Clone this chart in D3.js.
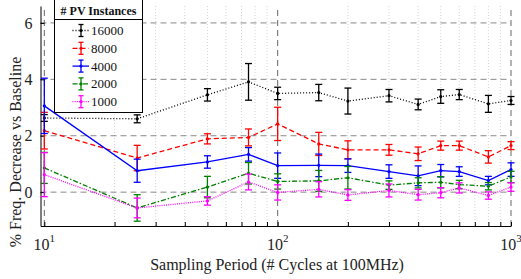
<!DOCTYPE html>
<html>
<head>
<meta charset="utf-8">
<script src="https://cdn.jsdelivr.net/npm/d3@7"></script>
<style>
  html, body { margin: 0; padding: 0; background: #fff; }
  svg text { font-family: "Liberation Serif" !important; }
</style>
</head>
<body>
<svg id="chart" width="521" height="279"></svg>
<script>
// ---- data ----
const periods = [10, 25, 50, 75, 100, 150, 200, 300, 400, 500, 600, 800, 1000];
const seriesNames = ["16000", "8000", "4000", "2000", "1000"];
const mean16000 = [2.63, 2.60, 3.45, 3.91, 3.50, 3.53, 3.23, 3.42, 3.11, 3.39, 3.46, 3.13, 3.25];
const err16000  = [0.12, 0.14, 0.22, 0.65, 0.22, 0.29, 0.46, 0.22, 0.19, 0.24, 0.18, 0.30, 0.14];
const mean8000  = [2.18, 1.21, 1.89, 1.94, 2.42, 1.71, 1.50, 1.50, 1.36, 1.65, 1.65, 1.25, 1.65];
const err8000   = [0.65, 0.45, 0.18, 0.30, 0.59, 0.41, 0.32, 0.19, 0.24, 0.16, 0.16, 0.22, 0.14];
const mean4000  = [3.06, 0.76, 1.07, 1.34, 0.94, 0.95, 0.94, 0.73, 0.58, 0.76, 0.73, 0.41, 0.80];
const err4000   = [0.98, 0.41, 0.22, 0.24, 0.45, 0.40, 0.24, 0.24, 0.35, 0.22, 0.17, 0.15, 0.24];
const mean2000  = [0.86, -0.56, 0.18, 0.67, 0.38, 0.40, 0.51, 0.25, 0.33, 0.35, 0.27, 0.21, 0.54];
const err2000   = [0.55, 0.47, 0.38, 0.38, 0.27, 0.37, 0.40, 0.15, 0.18, 0.20, 0.15, 0.13, 0.20];
const mean1000  = [0.62, -0.56, -0.31, 0.36, -0.01, 0.10, -0.10, 0.06, -0.09, -0.02, 0.15, -0.12, 0.18];
const err1000   = [0.78, 0.35, 0.15, 0.28, 0.27, 0.27, 0.19, 0.23, 0.19, 0.18, 0.18, 0.13, 0.15];
const yTicks = [0, 2, 4, 6];
const xMajorTicks = [10, 100, 1000];
const xMajorExponents = ["1", "2", "3"];
const xLabel = "Sampling Period (# Cycles at 100MHz)";
const yLabel = "% Freq. Decrease vs Baseline";
const legendTitle = "# PV Instances";

const means = [mean16000, mean8000, mean4000, mean2000, mean1000];
const errs = [err16000, err8000, err4000, err2000, err1000];
const colors = ["#000000", "#ff0000", "#0000ff", "#008000", "#ff00ff"];
const dashes = ["1,2", "5,3", null, "5,2,1.5,2", "1,1.2"];
const FONT = "Liberation Serif";

const svg = d3.select("#chart");
const x = d3.scaleLog().domain([9.63, 1000]).range([40.5, 511]);
const y = d3.scaleLinear().domain([-1.2, 6.6]).range([226, 6]);

function addText(parent) {
  return parent.append("text").style("font-family", FONT).attr("font-family", FONT);
}

// minor ticks
const minor = [];
[10, 100].forEach(d => { for (let k = 2; k <= 9; k++) minor.push(d * k); });

// grid
const grid = svg.append("g");
grid.selectAll("line.minor").data(minor).enter().append("line")
  .attr("x1", d => x(d)).attr("x2", d => x(d))
  .attr("y1", y(-1.2)).attr("y2", y(6.6))
  .attr("stroke", "#c8c8c8").attr("stroke-width", 0.8).attr("stroke-dasharray", "1,2");
grid.selectAll("line.vmaj").data(xMajorTicks).enter().append("line")
  .attr("x1", d => x(d)).attr("x2", d => x(d))
  .attr("y1", y(-1.2)).attr("y2", y(6.6))
  .attr("stroke", "#666").attr("stroke-width", 1).attr("stroke-dasharray", "6,4");
grid.selectAll("line.hmaj").data(yTicks).enter().append("line")
  .attr("x1", x(9.63)).attr("x2", x(1000))
  .attr("y1", d => y(d)).attr("y2", d => y(d))
  .attr("stroke", "#888").attr("stroke-width", 1).attr("stroke-dasharray", "6,4");

// axes
const xAxis = d3.axisBottom(x).tickValues(minor.concat(xMajorTicks)).tickSizeInner(-4).tickSizeOuter(0).tickFormat("");
const gx = svg.append("g").attr("transform", `translate(0,${y(-1.2)})`).call(xAxis);
gx.attr("font-family", null);
gx.selectAll("text").remove();
gx.select(".domain").attr("stroke", "#000");
const yAxis = d3.axisLeft(y).tickValues(yTicks).tickSizeInner(-4).tickSizeOuter(0).tickFormat(d3.format("d")).tickPadding(8);
const gy = svg.append("g").attr("transform", `translate(${x(9.63)},0)`).call(yAxis);
gy.attr("font-family", FONT);
gy.selectAll("text").attr("font-size", 16).attr("fill", "#222")
  .attr("font-family", FONT).style("font-family", FONT);

// x tick labels with superscripts
xMajorTicks.forEach((d, i) => {
  const t = addText(svg).attr("x", x(d)).attr("y", 250).attr("text-anchor", "middle")
    .attr("font-size", 16).attr("fill", "#222");
  t.append("tspan").text("10");
  t.append("tspan").attr("dy", -8).attr("font-size", 11).text(xMajorExponents[i]);
});

// axis labels
addText(svg).attr("x", 277).attr("y", 270).attr("text-anchor", "middle")
  .attr("font-size", 16).attr("fill", "#222").text(xLabel);
addText(svg).attr("transform", "translate(21,152) rotate(-90)").attr("text-anchor", "middle")
  .attr("font-size", 16).attr("fill", "#222").text(yLabel);

// series
const capW = 3.5;
seriesNames.forEach((name, si) => {
  const g = svg.append("g");
  const pts = periods.map((p, i) => ({ p, m: means[si][i], e: errs[si][i] }));
  const line = d3.line().x(d => x(d.p)).y(d => y(d.m));
  g.append("path").datum(pts).attr("d", line).attr("fill", "none")
    .attr("stroke", colors[si]).attr("stroke-width", 1.3)
    .attr("stroke-dasharray", dashes[si]);
  const eb = g.selectAll("g.eb").data(pts).enter().append("g");
  eb.append("line").attr("x1", d => x(d.p)).attr("x2", d => x(d.p))
    .attr("y1", d => y(d.m - d.e)).attr("y2", d => y(d.m + d.e))
    .attr("stroke", colors[si]).attr("stroke-width", 1.3);
  eb.append("line").attr("x1", d => x(d.p) - capW).attr("x2", d => x(d.p) + capW)
    .attr("y1", d => y(d.m - d.e)).attr("y2", d => y(d.m - d.e))
    .attr("stroke", colors[si]).attr("stroke-width", 1.3);
  eb.append("line").attr("x1", d => x(d.p) - capW).attr("x2", d => x(d.p) + capW)
    .attr("y1", d => y(d.m + d.e)).attr("y2", d => y(d.m + d.e))
    .attr("stroke", colors[si]).attr("stroke-width", 1.3);
  eb.append("circle").attr("cx", d => x(d.p)).attr("cy", d => y(d.m)).attr("r", 1.6)
    .attr("fill", colors[si]);
});

// legend
const lg = svg.append("g");
lg.append("rect").attr("x", 54.5).attr("y", -0.5).attr("width", 88).attr("height", 113)
  .attr("fill", "#fff").attr("stroke", "#000").attr("stroke-width", 1);
lg.append("line").attr("x1", 54.5).attr("x2", 142.5).attr("y1", 19.5).attr("y2", 19.5)
  .attr("stroke", "#000").attr("stroke-width", 1);
addText(lg).attr("x", 98.5).attr("y", 15).attr("text-anchor", "middle")
  .attr("font-size", 12).attr("font-weight", "bold").attr("fill", "#111").text(legendTitle);
seriesNames.forEach((name, si) => {
  const cy = 30.5 + si * 17.8;
  lg.append("line").attr("x1", 72.5).attr("x2", 89).attr("y1", cy).attr("y2", cy)
    .attr("stroke", colors[si]).attr("stroke-width", 1.3).attr("stroke-dasharray", dashes[si]);
  lg.append("line").attr("x1", 81).attr("x2", 81).attr("y1", cy - 6).attr("y2", cy + 6)
    .attr("stroke", colors[si]).attr("stroke-width", 1.3);
  lg.append("line").attr("x1", 78.5).attr("x2", 83.5).attr("y1", cy - 6).attr("y2", cy - 6)
    .attr("stroke", colors[si]).attr("stroke-width", 1.3);
  lg.append("line").attr("x1", 78.5).attr("x2", 83.5).attr("y1", cy + 6).attr("y2", cy + 6)
    .attr("stroke", colors[si]).attr("stroke-width", 1.3);
  lg.append("circle").attr("cx", 81).attr("cy", cy).attr("r", 1.6).attr("fill", colors[si]);
  addText(lg).attr("x", 91).attr("y", cy + 4.5)
    .attr("font-size", 13).attr("fill", "#111").text(name);
});
</script>
</body>
</html>
